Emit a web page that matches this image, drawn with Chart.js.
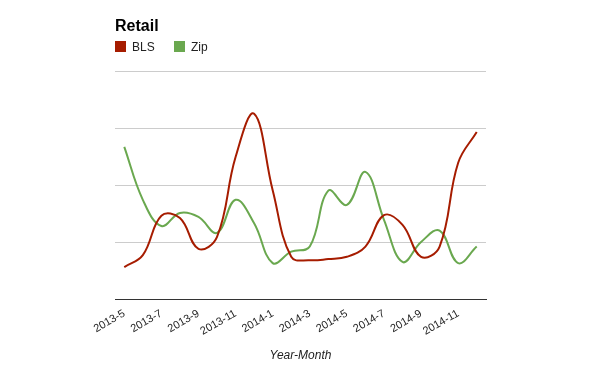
<!DOCTYPE html>
<html>
<head>
<meta charset="utf-8">
<script src="https://cdn.jsdelivr.net/npm/chart.js@4.4.1/dist/chart.umd.min.js"></script>
<style>
  body { margin: 0; background: #fff; font-family: "Liberation Sans", Arial, sans-serif; }
  #wrap { position: relative; width: 600px; height: 371px; }
  #title { position: absolute; left: 115px; top: 17px; font-size: 16px; font-weight: bold; color: #000; }
  .leg { position: absolute; top: 40px; font-size: 12px; color: #222; line-height: 14px; }
  .leg i { display: inline-block; width: 11px; height: 11px; vertical-align: -1px; margin-right: 6px; }
</style>
</head>
<body>
<div id="wrap">
  <canvas id="c" width="600" height="371"></canvas>
  <div id="title">Retail</div>
  <div class="leg" style="left:115px"><i style="background:#a61c00"></i>BLS</div>
  <div class="leg" style="left:174px"><i style="background:#6aa84f"></i>Zip</div>
</div>
<script>
'use strict';

/* ── Datos ── */
const months = ['2013-5', '2013-6', '2013-7', '2013-8', '2013-9', '2013-10', '2013-11', '2013-12',
                '2014-1', '2014-2', '2014-3', '2014-4', '2014-5', '2014-6', '2014-7', '2014-8',
                '2014-9', '2014-10', '2014-11', '2014-12'];
const bls = [0.56, 0.77, 1.46, 1.42, 0.88, 1.09, 2.49, 3.25, 1.91, 0.74,
             0.68, 0.70, 0.74, 0.92, 1.47, 1.30, 0.74, 0.92, 2.39, 2.93];
const zip = [2.67, 1.74, 1.28, 1.51, 1.44, 1.16, 1.74, 1.33, 0.63, 0.83,
             0.92, 1.90, 1.65, 2.23, 1.39, 0.65, 1.00, 1.20, 0.63, 0.92];

new Chart(document.getElementById('c'), {
  type: 'line',
  data: {
    labels: months,
    datasets: [
      { label: 'BLS', data: bls, borderColor: '#a61c00', borderWidth: 2, pointRadius: 0, tension: 0.4 },
      { label: 'Zip', data: zip, borderColor: '#6aa84f', borderWidth: 2, pointRadius: 0, tension: 0.4 }
    ]
  },
  options: {
    responsive: false,
    animation: false,
    layout: { padding: { left: 115, right: 114, top: 71, bottom: 0 } },
    plugins: { legend: { display: false }, tooltip: { enabled: false } },
    scales: {
      x: {
        offset: true,
        grid: { display: false },
        border: { display: true, color: '#333', width: 1 },
        ticks: {
          autoSkip: false,
          minRotation: 30, maxRotation: 30,
          padding: 0,
          color: '#222',
          font: { family: 'Liberation Sans', size: 11 },
          callback: (v, i) => (i % 2 === 0 ? months[i] : '')
        },
        title: {
          display: true, text: 'Year-Month', color: '#222',
          font: { family: 'Liberation Sans', size: 12, style: 'italic' },
          padding: { top: 0, bottom: 8 }
        },
        afterFit: s => { s.height = 72; }
      },
      y: {
        min: 0, max: 4,
        grid: { color: '#cccccc', drawTicks: false },
        border: { display: false },
        ticks: { display: false, stepSize: 1 },
        afterFit: s => { s.width = 0; }
      }
    }
  }
});
</script>
</body>
</html>
